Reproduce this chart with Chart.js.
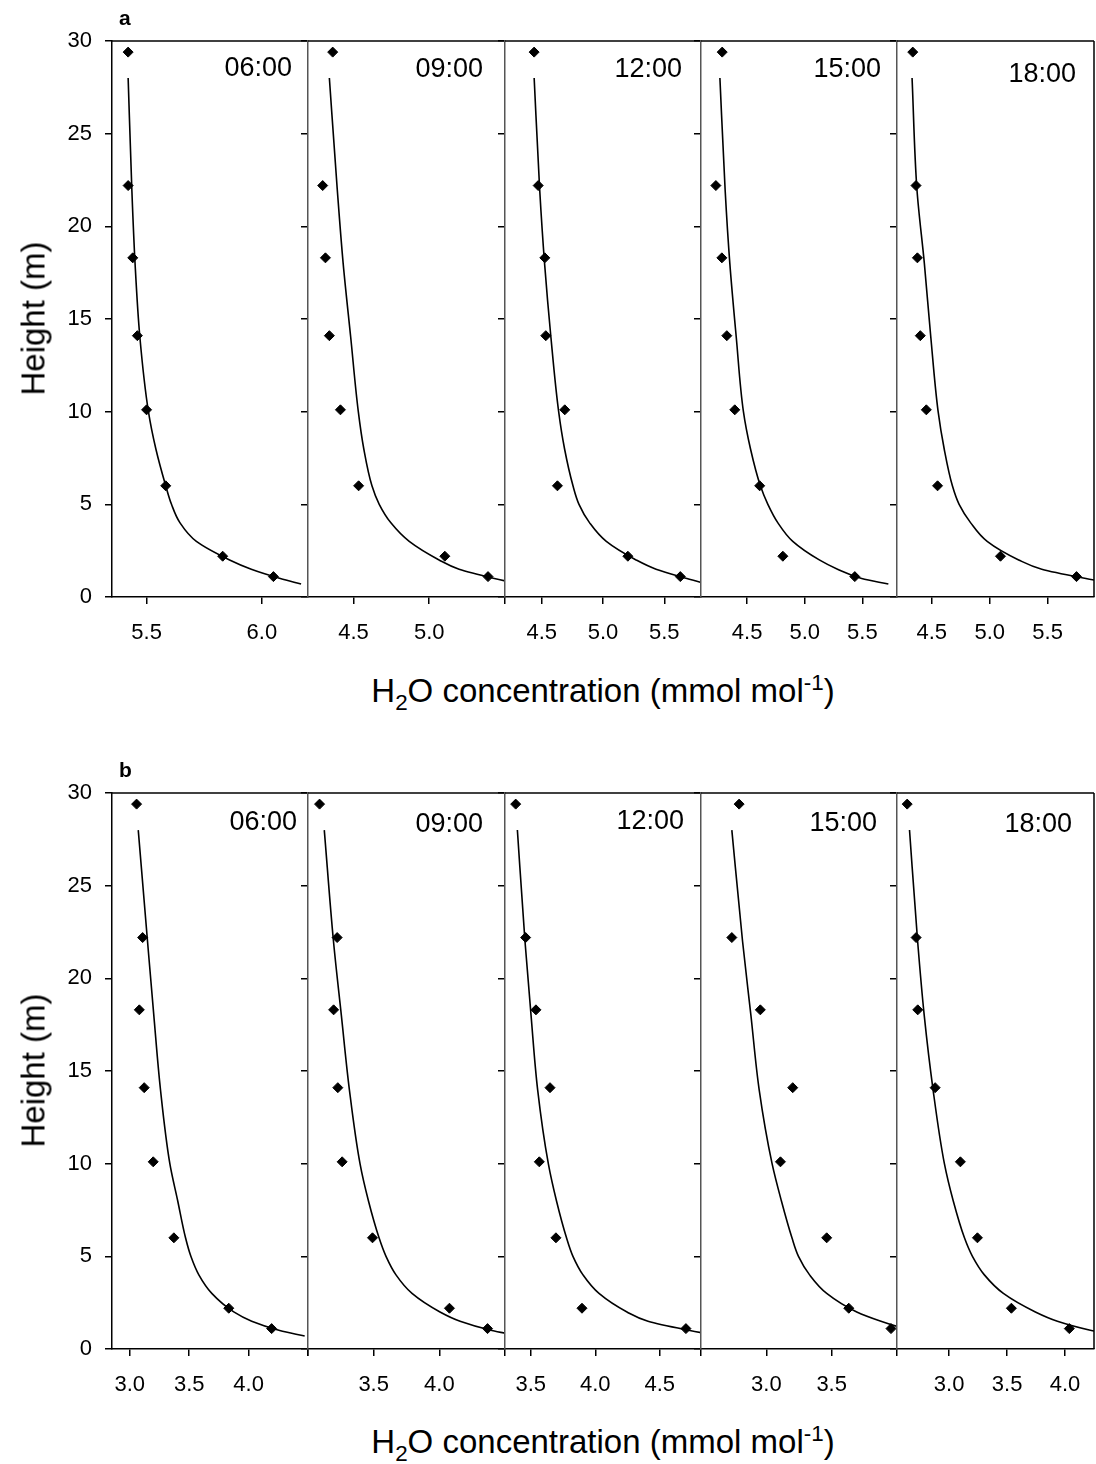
<!DOCTYPE html>
<html>
<head>
<meta charset="utf-8">
<script src="https://cdn.jsdelivr.net/npm/chart.js@4.4.0/dist/chart.umd.min.js"></script>
<style>
  body { margin: 0; background: #fff; }
  #page { position: relative; width: 1096px; height: 1464px; overflow: hidden;
          font-family: Arial, "Liberation Sans", sans-serif; color: #000; }
  #page canvas { position: absolute; }
  .txt { position: absolute; white-space: nowrap; line-height: 1; }
  .time { font-size: 27px; text-align: right; }
  .letter { font-size: 21px; font-weight: bold; }
  .xtitle { font-size: 33px; width: 800px; text-align: center; }
  .ytitle { font-size: 33px; width: 400px; text-align: center; transform: rotate(-90deg); }
  sub, sup { font-size: 0.68em; line-height: 0; }
</style>
</head>
<body>
<div id="page"></div>
<script>
// measurement heights (m) - same for every panel
var heights = [29.4, 22.2, 18.3, 14.1, 10.1, 6.0, 2.2, 1.1];
var curveHeights = [28, 22, 18, 14, 10, 8, 6, 5, 4, 3, 2, 1.5, 1, 0.7];
var times = ['06:00', '09:00', '12:00', '15:00', '18:00'];

// panel a - measured H2O (mmol/mol)
var a06 = [5.42, 5.42, 5.44, 5.46, 5.50, 5.583, 5.83, 6.05];
var a09 = [4.363, 4.297, 4.315, 4.341, 4.414, 4.534, 5.103, 5.388];
var a12 = [4.438, 4.471, 4.525, 4.533, 4.688, 4.628, 5.203, 5.631];
var a15 = [4.284, 4.229, 4.281, 4.324, 4.393, 4.609, 4.81, 5.434];
var a18 = [4.336, 4.364, 4.376, 4.401, 4.453, 4.55, 5.093, 5.749];
// panel a - model curves
var a06c = [5.42, 5.436, 5.45, 5.471, 5.508, 5.54, 5.583, 5.608, 5.645, 5.716, 5.86, 5.954, 6.08, 6.17];
var a09c = [4.341, 4.393, 4.432, 4.482, 4.532, 4.568, 4.622, 4.67, 4.747, 4.868, 5.065, 5.197, 5.43, 5.6];
var a12c = [4.438, 4.483, 4.523, 4.575, 4.638, 4.686, 4.755, 4.804, 4.891, 5.027, 5.27, 5.433, 5.685, 5.85];
var a15c = [4.264, 4.309, 4.35, 4.406, 4.468, 4.529, 4.615, 4.68, 4.767, 4.896, 5.126, 5.284, 5.494, 5.725];
var a18c = [4.33, 4.372, 4.436, 4.492, 4.555, 4.607, 4.678, 4.736, 4.836, 4.978, 5.25, 5.449, 5.83, 6.1];

// panel b - measured H2O (mmol/mol)
var b06 = [3.057, 3.108, 3.08, 3.121, 3.197, 3.371, 3.833, 4.194];
var b09 = [3.088, 3.222, 3.195, 3.227, 3.26, 3.491, 4.077, 4.367];
var b12 = [3.383, 3.46, 3.54, 3.649, 3.566, 3.695, 3.897, 4.703];
var b15 = [2.792, 2.736, 2.954, 3.202, 3.108, 3.462, 3.631, 3.954];
var b18 = [2.638, 2.715, 2.729, 2.879, 3.097, 3.244, 3.537, 4.037];
// panel b - model curves
var b06c = [3.071, 3.149, 3.202, 3.258, 3.337, 3.403, 3.469, 3.514, 3.581, 3.69, 3.875, 4.026, 4.262, 4.472];
var b09c = [3.124, 3.194, 3.254, 3.315, 3.396, 3.46, 3.541, 3.594, 3.67, 3.792, 4.005, 4.158, 4.401, 4.615];
var b12c = [3.396, 3.455, 3.502, 3.553, 3.636, 3.699, 3.777, 3.827, 3.905, 4.029, 4.246, 4.409, 4.734, 4.967];
var b15c = [2.736, 2.818, 2.882, 2.945, 3.044, 3.115, 3.196, 3.246, 3.331, 3.462, 3.692, 3.877, 4.108, 4.3];
var b18c = [2.658, 2.728, 2.785, 2.861, 2.959, 3.035, 3.132, 3.201, 3.304, 3.468, 3.744, 3.934, 4.227, 4.468];

// x axis ranges of each panel
var aMin = [5.35, 4.2, 4.2, 4.1, 4.2];
var aMax = [6.2, 5.5, 5.8, 5.8, 5.9];
var bMin = [2.85, 3.0, 3.3, 2.5, 2.55];
var bMax = [4.5, 4.5, 4.82, 4.0, 4.25];

// layout
var panelEdges = [112, 308, 505, 701, 897, 1094];
var rowTop = { a: 41, b: 793 };
var plotH = 556;
var timePos = {
  a: [[292, 67.5], [483, 68], [682, 68], [881, 68], [1076, 73]],
  b: [[297, 821], [483, 823], [684, 820], [877, 822], [1072, 823]]
};

var FONT = 'Arial, "Liberation Sans", sans-serif';
var page = document.getElementById('page');

function toXY(xs, ys) {
  return xs.map(function (v, k) { return { x: v, y: ys[k] }; });
}

// top/right frame lines
var framePlugin = {
  id: 'frame',
  afterDraw: function (chart, args, opts) {
    var a = chart.chartArea, ctx = chart.ctx;
    ctx.save();
    ctx.lineWidth = 1.5;
    ctx.strokeStyle = '#000';
    ctx.beginPath();
    ctx.moveTo(a.left, a.top);
    ctx.lineTo(a.right, a.top);
    if (opts.last) {
      ctx.moveTo(a.right, a.top);
      ctx.lineTo(a.right, a.bottom);
    }
    ctx.stroke();
    ctx.restore();
  }
};

function noOverhang(s) {
  s.paddingTop = 0; s.paddingBottom = 0; s.paddingLeft = 0; s.paddingRight = 0;
}

function makePanel(row, i, pts, curve, xmin, xmax) {
  var L = i === 0 ? 80 : 10, R = 30, T = 20, B = 60;
  var w = panelEdges[i + 1] - panelEdges[i];
  var cv = document.createElement('canvas');
  cv.width = w + L + R;
  cv.height = plotH + T + B;
  cv.style.left = (panelEdges[i] - L) + 'px';
  cv.style.top = (rowTop[row] - T) + 'px';
  page.appendChild(cv);

  new Chart(cv, {
    type: 'scatter',
    data: {
      datasets: [{
        data: toXY(pts, heights),
        pointStyle: 'rectRot',
        pointRadius: 5,
        borderWidth: 1,
        backgroundColor: '#000',
        borderColor: '#000',
        clip: false
      }, {
        data: toXY(curve, curveHeights),
        showLine: true,
        pointRadius: 0,
        borderColor: '#000',
        borderWidth: 1.6,
        cubicInterpolationMode: 'monotone',
        fill: false
      }]
    },
    options: {
      responsive: false,
      animation: false,
      events: [],
      indexAxis: 'y',
      layout: { padding: { top: T, right: R, left: 0, bottom: 0 } },
      plugins: { legend: { display: false }, tooltip: { enabled: false }, frame: { last: i === 4 } },
      scales: {
        x: {
          type: 'linear', min: xmin, max: xmax,
          afterFit: function (s) { s.height = B; noOverhang(s); },
          border: { color: '#000', width: 1.5 },
          grid: { drawOnChartArea: false, drawTicks: true, tickLength: 7, color: '#000', lineWidth: 1.5 },
          ticks: {
            stepSize: 0.5, includeBounds: false, autoSkip: false, maxRotation: 0,
            color: '#000', padding: 16, font: { family: FONT, size: 22 },
            callback: function (v) {
              if (Math.abs(v - xmin) < 1e-6 || Math.abs(v - xmax) < 1e-6) return '';
              return v.toFixed(1);
            }
          }
        },
        y: {
          type: 'linear', min: 0, max: 30,
          afterFit: function (s) { s.width = L; noOverhang(s); },
          border: { color: i === 0 ? '#000' : '#555', width: 1.5 },
          grid: { drawOnChartArea: false, drawTicks: true, tickLength: 7, color: '#000', lineWidth: 1.5 },
          ticks: {
            stepSize: 5, display: i === 0, color: '#000', padding: 13,
            font: { family: FONT, size: 22 }
          }
        }
      }
    },
    plugins: [framePlugin]
  });

  var p = timePos[row][i];
  var d = document.createElement('div');
  d.className = 'txt time';
  d.textContent = times[i];
  d.style.right = (1096 - p[0]) + 'px';
  d.style.top = (p[1] - 0.49 * 27) + 'px';
  page.appendChild(d);
}

var aPts = [a06, a09, a12, a15, a18], aCur = [a06c, a09c, a12c, a15c, a18c];
var bPts = [b06, b09, b12, b15, b18], bCur = [b06c, b09c, b12c, b15c, b18c];
for (var i = 0; i < 5; i++) {
  makePanel('a', i, aPts[i], aCur[i], aMin[i], aMax[i]);
  makePanel('b', i, bPts[i], bCur[i], bMin[i], bMax[i]);
}

// text: panel letters and axis titles
function addText(cls, html, left, top) {
  var d = document.createElement('div');
  d.className = 'txt ' + cls;
  d.innerHTML = html;
  d.style.left = left + 'px';
  d.style.top = top + 'px';
  page.appendChild(d);
}
var xTitle = 'H<sub>2</sub>O concentration (mmol mol<sup>-1</sup>)';
addText('letter', 'a', 119, 7);
addText('letter', 'b', 119, 759);
addText('xtitle', xTitle, 603 - 400, 674);
addText('xtitle', xTitle, 603 - 400, 1425);
addText('ytitle', 'Height (m)', 33 - 200, 318 - 16);
addText('ytitle', 'Height (m)', 33 - 200, 1070 - 16);
</script>
</body>
</html>
